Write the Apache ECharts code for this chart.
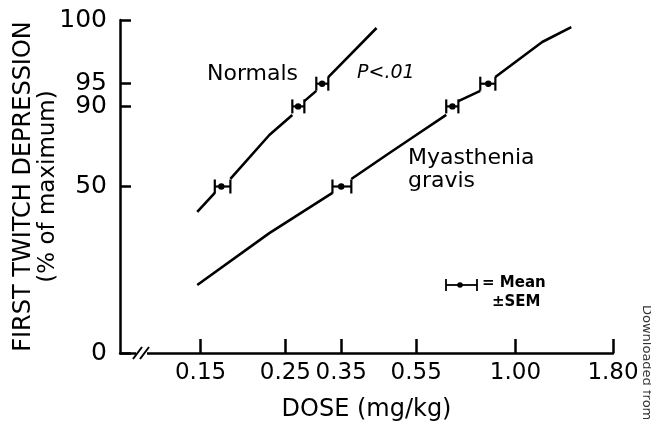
<!DOCTYPE html>
<html>
<head>
<meta charset="utf-8">
<script src="https://cdn.jsdelivr.net/npm/echarts@6/dist/echarts.min.js"></script>
<style>
  html, body { margin: 0; padding: 0; background: #fff; }
  #chart { width: 651px; height: 421px; }
</style>
</head>
<body>
<div id="chart"></div>
<script>
// ---- data (dose in mg/kg, response in % of maximum) ----
const xTickDoses = [0.15, 0.25, 0.35, 0.55, 1.00, 1.80];
const xTickLabels = ['0.15', '0.25', '0.35', '0.55', '1.00', '1.80'];
const yTickPercents = [0, 50, 90, 95, 100];
const yTickLabels = ['0', '50', '90', '95', '100'];

// mean +/- SEM points
const normalsMeanDose = [0.170, 0.270, 0.312];
const normalsMeanPct = [50, 90, 95];
const normalsSemLow = [0.1634, 0.2607, 0.3012];
const normalsSemHigh = [0.1795, 0.2803, 0.3238];

const mgMeanDose = [0.350, 0.684, 0.849];
const mgMeanPct = [50, 90, 95];
const mgSemLow = [0.332, 0.659, 0.809];
const mgSemHigh = [0.372, 0.709, 0.886];

// drawn dose-response curves (null = break at an error bar)
const normalsCurveDose = [0.147, 0.1634, null, 0.1795, 0.227, 0.2607, null, 0.2803, 0.3012, null, 0.3238, 0.433];
const normalsCurvePct  = [34.2, 45.9, null, 54.8, 79.5, 87.4, null, 91.4, 93.7, null, 96.0, 99.44];

const mgCurveDose = [0.147, 0.227, 0.332, null, 0.372, 0.468, 0.550, 0.659, null, 0.709, 0.809, null, 0.886, 1.175, 1.400];
const mgCurvePct  = [5.75, 22.8, 45.9, null, 54.8, 70.4, 79.5, 87.4, null, 91.4, 93.7, null, 96.0, 98.96, 99.46];

// ---- scale helpers (log dose, probit response) ----
const Y_LIM = 2.664;
function probit(p) {
  const a = [-3.969683028665376e+01, 2.209460984245205e+02, -2.759285104469687e+02, 1.383577518672690e+02, -3.066479806614716e+01, 2.506628277459239e+00];
  const b = [-5.447609879822406e+01, 1.615858368580409e+02, -1.556989798598866e+02, 6.680131188771972e+01, -1.328068155288572e+01];
  const c = [-7.784894002430293e-03, -3.223964580411365e-01, -2.400758277161838e+00, -2.549732539343734e+00, 4.374664141464968e+00, 2.938163982698783e+00];
  const d = [7.784695709041462e-03, 3.224671290700398e-01, 2.445134137142996e+00, 3.754408661907416e+00];
  const pl = 0.02425;
  if (p < pl) {
    const q = Math.sqrt(-2 * Math.log(p));
    return (((((c[0]*q+c[1])*q+c[2])*q+c[3])*q+c[4])*q+c[5]) / ((((d[0]*q+d[1])*q+d[2])*q+d[3])*q+1);
  }
  if (p > 1 - pl) {
    const q = Math.sqrt(-2 * Math.log(1 - p));
    return -(((((c[0]*q+c[1])*q+c[2])*q+c[3])*q+c[4])*q+c[5]) / ((((d[0]*q+d[1])*q+d[2])*q+d[3])*q+1);
  }
  const q = p - 0.5, r = q * q;
  return (((((a[0]*r+a[1])*r+a[2])*r+a[3])*r+a[4])*r+a[5])*q / (((((b[0]*r+b[1])*r+b[2])*r+b[3])*r+b[4])*r+1);
}
function yOf(pct) {
  if (pct <= 0) return -Y_LIM;
  if (pct >= 100) return Y_LIM;
  return probit(pct / 100);
}
function xOf(dose) { return Math.log10(dose); }

const X_MIN = Math.log10(0.0923);
const X_MAX = Math.log10(1.80);

function curveData(doses, pcts) {
  return doses.map((d, i) => (d == null || pcts[i] == null) ? ['-', '-'] : [xOf(d), yOf(pcts[i])]);
}
function barData(mean, pct, lo, hi) {
  return mean.map((m, i) => [xOf(m), yOf(pct[i]), xOf(lo[i]), xOf(hi[i])]);
}

const xTickVals = xTickDoses.map(xOf);
const yTickVals = yTickPercents.map(yOf);
function nearestLabel(v, vals, labels) {
  let best = 0;
  for (let i = 1; i < vals.length; i++) if (Math.abs(vals[i] - v) < Math.abs(vals[best] - v)) best = i;
  return labels[best];
}

function renderBar(params, api) {
  const c = api.coord([api.value(0), api.value(1)]);
  const l = api.coord([api.value(2), api.value(1)]);
  const r = api.coord([api.value(3), api.value(1)]);
  const h = 7;
  const st = { stroke: '#000', lineWidth: 2.2, fill: null };
  return {
    type: 'group',
    children: [
      { type: 'line', shape: { x1: l[0], y1: c[1], x2: r[0], y2: c[1] }, style: st },
      { type: 'line', shape: { x1: l[0], y1: c[1] - h, x2: l[0], y2: c[1] + h }, style: st },
      { type: 'line', shape: { x1: r[0], y1: c[1] - h, x2: r[0], y2: c[1] + h }, style: st },
      { type: 'circle', shape: { cx: c[0], cy: c[1], r: 3.2 }, style: { fill: '#000' } }
    ]
  };
}

const FONT = 'DejaVu Sans';
const chart = echarts.init(document.getElementById('chart'), null, { renderer: 'canvas' });
chart.setOption({
  animation: false,
  backgroundColor: '#fff',
  grid: { left: 120, right: 38, top: 20, bottom: 68, containLabel: false, outerBoundsMode: 'none' },
  xAxis: {
    type: 'value',
    min: X_MIN,
    max: X_MAX,
    name: 'DOSE (mg/kg)',
    nameLocation: 'middle',
    nameGap: 45,
    nameMoveOverlap: false,
    nameTextStyle: { fontFamily: FONT, fontSize: 24, color: '#000' },
    axisLine: { show: true, onZero: false, lineStyle: { color: '#000', width: 2.5 } },
    axisTick: { show: true, inside: true, length: 14, customValues: xTickVals, lineStyle: { color: '#000', width: 2.5 } },
    axisLabel: {
      customValues: xTickVals,
      formatter: v => nearestLabel(v, xTickVals, xTickLabels),
      fontFamily: FONT, fontSize: 23, color: '#000', margin: 9
    },
    splitLine: { show: false }
  },
  yAxis: {
    type: 'value',
    min: -Y_LIM,
    max: Y_LIM,
    name: '{a|FIRST TWITCH DEPRESSION}\n{b|(% of maximum)}',
    nameLocation: 'middle',
    nameRotate: 90,
    nameGap: 60,
    nameMoveOverlap: false,
    nameTextStyle: {
      color: '#000',
      rich: {
        a: { fontFamily: FONT, fontSize: 24, lineHeight: 24, color: '#000' },
        b: { fontFamily: FONT, fontSize: 23, lineHeight: 24, color: '#000' }
      }
    },
    axisLine: { show: true, onZero: false, lineStyle: { color: '#000', width: 2.5 } },
    axisTick: { show: true, inside: true, length: 11, customValues: yTickVals, lineStyle: { color: '#000', width: 2.5 } },
    axisLabel: {
      customValues: yTickVals,
      formatter: v => nearestLabel(v, yTickVals, yTickLabels),
      fontFamily: FONT, fontSize: 25, color: '#000', margin: 13
    },
    splitLine: { show: false }
  },
  series: [
    {
      name: 'Normals curve', type: 'line', data: curveData(normalsCurveDose, normalsCurvePct),
      symbol: 'none', connectNulls: false,
      lineStyle: { color: '#000', width: 2.6 }, z: 2
    },
    {
      name: 'Myasthenia gravis curve', type: 'line', data: curveData(mgCurveDose, mgCurvePct),
      symbol: 'none', connectNulls: false,
      lineStyle: { color: '#000', width: 2.6 }, z: 2
    },
    {
      name: 'Normals mean', type: 'custom', renderItem: renderBar,
      data: barData(normalsMeanDose, normalsMeanPct, normalsSemLow, normalsSemHigh), z: 3
    },
    {
      name: 'Myasthenia mean', type: 'custom', renderItem: renderBar,
      data: barData(mgMeanDose, mgMeanPct, mgSemLow, mgSemHigh), z: 3
    }
  ],
  graphic: [
    // axis break marks on the dose axis
    { type: 'rect', shape: { x: 136, y: 348, width: 11, height: 10 }, style: { fill: '#fff' }, z: 100 },
    { type: 'line', shape: { x1: 133, y1: 359, x2: 142, y2: 347 }, style: { stroke: '#000', lineWidth: 2 }, z: 101 },
    { type: 'line', shape: { x1: 140, y1: 359, x2: 149, y2: 347 }, style: { stroke: '#000', lineWidth: 2 }, z: 101 },
    // annotations
    { type: 'text', left: 207, top: 63, style: { text: 'Normals', fontFamily: FONT, fontSize: 22, fill: '#000' } },
    { type: 'text', left: 357, top: 64, style: { text: 'P<.01', fontFamily: FONT, fontSize: 19, fontStyle: 'italic', fill: '#000' } },
    { type: 'text', left: 408, top: 147, style: { text: 'Myasthenia\ngravis', fontFamily: FONT, fontSize: 22, lineHeight: 23, fill: '#000' } },
    // key
    { type: 'line', shape: { x1: 446, y1: 285, x2: 477, y2: 285 }, style: { stroke: '#000', lineWidth: 1.8 } },
    { type: 'line', shape: { x1: 446, y1: 279, x2: 446, y2: 291 }, style: { stroke: '#000', lineWidth: 1.8 } },
    { type: 'line', shape: { x1: 477, y1: 279, x2: 477, y2: 291 }, style: { stroke: '#000', lineWidth: 1.8 } },
    { type: 'circle', shape: { cx: 460, cy: 285, r: 2.8 }, style: { fill: '#000' } },
    { type: 'text', left: 482, top: 276, style: { text: '= Mean', fontFamily: FONT, fontSize: 15, fontWeight: 'bold', fill: '#000' } },
    { type: 'text', left: 492, top: 295, style: { text: '±SEM', fontFamily: FONT, fontSize: 15, fontWeight: 'bold', fill: '#000' } },
    // clipped side margin note
    { type: 'text', x: 653, y: 305, rotation: -Math.PI / 2, style: { text: 'Downloaded from', fontFamily: FONT, fontSize: 13, fill: '#333', textVerticalAlign: 'top' } }
  ]
});
</script>
</body>
</html>
